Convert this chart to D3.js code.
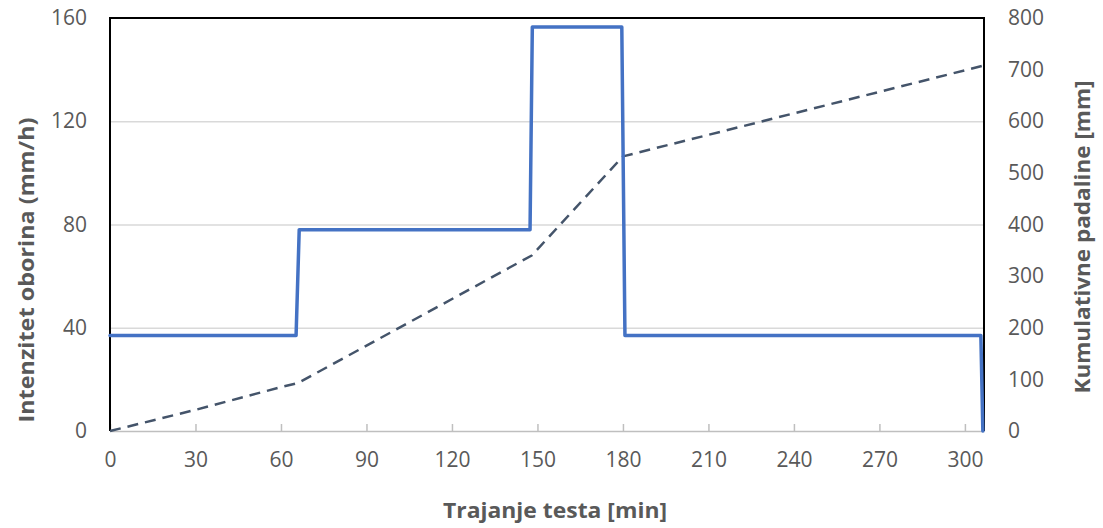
<!DOCTYPE html>
<html>
<head>
<meta charset="utf-8">
<script src="https://cdn.jsdelivr.net/npm/d3@7"></script>
<style>
  html, body { margin: 0; padding: 0; background: #fff; }
  svg { display: block; }
  svg text { font-family: "Open Sans", "Liberation Sans", sans-serif; }
</style>
</head>
<body>
<svg id="chart" width="1103" height="528"></svg>
<script>
// ---- data ----
const xTicks = [0, 30, 60, 90, 120, 150, 180, 210, 240, 270, 300];
const yLeftTicks = [0, 40, 80, 120, 160];
const yRightTicks = [0, 100, 200, 300, 400, 500, 600, 700, 800];

// Rainfall intensity (mm/h) – step hyetograph
const intensityTime  = [0, 65.3, 66.4, 147.4, 148.2, 179.6, 180.7, 305.6, 306.3];
const intensityValue = [37, 37, 78, 78, 156.5, 156.5, 37, 37, 0];

// Cumulative rainfall (mm)
const cumulTime  = [0, 30, 60, 66, 148, 180, 306];
const cumulValue = [0, 41, 85, 93, 340, 532, 707];

const xTitle = "Trajanje testa [min]";
const yLeftTitle = "Intenzitet oborina (mm/h)";
const yRightTitle = "Kumulativne padaline [mm]";

// ---- layout ----
const svg = d3.select("#chart");
const m = { left: 110, top: 18, right: 1103 - 984, bottom: 528 - 431 };
const W = 1103 - m.left - m.right;
const H = 528 - m.top - m.bottom;
const textColor = "#595959";
const fontFam = '"Open Sans", "Liberation Sans", sans-serif';

const x = d3.scaleLinear().domain([0, 306.7]).range([0, W]);
const yL = d3.scaleLinear().domain([0, 160]).range([H, 0]);
const yR = d3.scaleLinear().domain([0, 800]).range([H, 0]);

const g = svg.append("g").attr("transform", `translate(${m.left},${m.top})`);

// gridlines
const grid = g.append("g").call(d3.axisLeft(yL).tickValues([40, 80, 120]).tickSize(-W).tickFormat(""));
grid.select(".domain").remove();
grid.selectAll("line").attr("stroke", "#d9d9d9").attr("stroke-width", 1.5);

function styleText(sel) {
  sel.attr("font-family", null);
  sel.selectAll("text").attr("fill", textColor)
    .style("font-family", fontFam).style("font-size", "21px");
}

// x axis (gray line with inward ticks)
const xAx = g.append("g").attr("transform", `translate(0,${H})`)
  .call(d3.axisBottom(x).tickValues(xTicks).tickSizeInner(-7).tickSizeOuter(0).tickPadding(21).tickFormat(d3.format("d")));
xAx.select(".domain").attr("stroke", "#bfbfbf").attr("stroke-width", 1.5);
xAx.selectAll(".tick line").attr("stroke", "#bfbfbf").attr("stroke-width", 1.5);
styleText(xAx);

// left axis labels
const yLAx = g.append("g").call(d3.axisLeft(yL).tickValues(yLeftTicks).tickSize(0).tickPadding(23));
yLAx.select(".domain").remove();
styleText(yLAx);

// right axis labels
const yRAx = g.append("g").attr("transform", `translate(${W},0)`)
  .call(d3.axisRight(yR).tickValues(yRightTicks).tickSize(0).tickPadding(24));
yRAx.select(".domain").remove();
styleText(yRAx);

// frame (left, top, right in black)
g.append("path")
  .attr("d", `M0,${H}V0H${W}V${H}`)
  .attr("fill", "none").attr("stroke", "#000").attr("stroke-width", 2);

// cumulative dashed line
const cumData = cumulTime.map((t, i) => [t, cumulValue[i]]);
g.append("path")
  .datum(cumData)
  .attr("fill", "none")
  .attr("stroke", "#44546a")
  .attr("stroke-width", 2.5)
  .attr("stroke-dasharray", "11,7")
  .attr("stroke-linejoin", "round")
  .attr("d", d3.line().x(d => x(d[0])).y(d => yR(d[1])));

// intensity line
const intData = intensityTime.map((t, i) => [t, intensityValue[i]]);
g.append("path")
  .datum(intData)
  .attr("fill", "none")
  .attr("stroke", "#4472c4")
  .attr("stroke-width", 3.5)
  .attr("stroke-linejoin", "round")
  .attr("stroke-linecap", "round")
  .attr("d", d3.line().x(d => x(d[0])).y(d => yL(d[1])));

// titles
svg.append("text")
  .attr("x", 555).attr("y", 511)
  .attr("dy", "0.35em")
  .attr("text-anchor", "middle")
  .attr("fill", textColor)
  .style("font-size", "21px").style("font-weight", "bold")
  .attr("textLength", 224).attr("lengthAdjust", "spacingAndGlyphs")
  .text(xTitle);

svg.append("text")
  .attr("transform", "translate(27,270) rotate(-90)")
  .attr("dy", "0.35em")
  .attr("text-anchor", "middle")
  .attr("fill", textColor)
  .style("font-size", "21px").style("font-weight", "bold")
  .attr("textLength", 305).attr("lengthAdjust", "spacingAndGlyphs")
  .text(yLeftTitle);

svg.append("text")
  .attr("transform", "translate(1083,237) rotate(-90)")
  .attr("dy", "0.35em")
  .attr("text-anchor", "middle")
  .attr("fill", textColor)
  .style("font-size", "21px").style("font-weight", "bold")
  .attr("textLength", 313).attr("lengthAdjust", "spacingAndGlyphs")
  .text(yRightTitle);
</script>
</body>
</html>
